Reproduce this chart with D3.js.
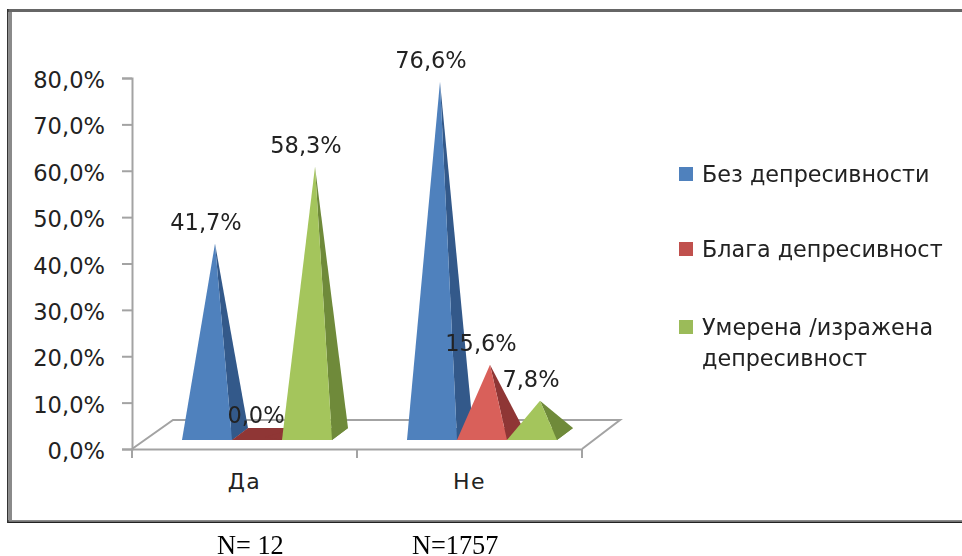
<!DOCTYPE html>
<html><head><meta charset="utf-8">
<script src="https://cdnjs.cloudflare.com/ajax/libs/d3/7.8.5/d3.min.js"></script>
<style>html,body{margin:0;padding:0;background:#fff;overflow:hidden}svg{display:block;filter:blur(0.5px)}</style>
</head><body><div id="c"></div>
<script>
const categories = ["Да", "Не"];
const seriesNames = ["Без депресивности", "Блага депресивност", "Умерена /изражена депресивност"];
const noDepression = [41.7, 76.6];
const mildDepression = [0.0, 15.6];
const moderateDepression = [58.3, 7.8];
const yTicks = [0, 10, 20, 30, 40, 50, 60, 70, 80];
const sampleLabels = ["N= 12", "N=1757"];
const legendLines = [["Без депресивности"], ["Блага депресивност"], ["Умерена /изражена", "депресивност"]];
const faceColors = ["#4f81bd", "#d9605a", "#a4c55c"];
const sideColors = ["#33598a", "#8f3635", "#6f8a3a"];
const legendColors = ["#4f81bd", "#c0504d", "#9bbb59"];

const W = 962, H = 556;
const svg = d3.select("#c").append("svg").attr("width", W).attr("height", H);
const fmt = v => v.toFixed(1).replace(".", ",") + "%";

// frame (runs off the right edge, as in the scan)
svg.append("rect").attr("x", 8).attr("y", 10).attr("width", W).attr("height", 512)
  .attr("fill", "#fff").attr("stroke", "none");
svg.append("rect").attr("x", 7).attr("y", 9).attr("width", W).attr("height", 3).attr("fill", "#666");
svg.append("rect").attr("x", 7).attr("y", 520).attr("width", W).attr("height", 1.5).attr("fill", "#8a8a8a");
svg.append("rect").attr("x", 7).attr("y", 521.5).attr("width", W).attr("height", 1.5).attr("fill", "#222");
svg.append("rect").attr("x", 7).attr("y", 9).attr("width", 1.5).attr("height", 514).attr("fill", "#333");
svg.append("rect").attr("x", 8.5).attr("y", 12).attr("width", 3.5).attr("height", 508).attr("fill", "#8a8a8a");

const y = d3.scaleLinear().domain([0, 80]).range([449, 78]);
const x = d3.scaleBand().domain(categories).range([132, 582]);
const inner = d3.scaleBand().domain([0, 1, 2]).range([50, 200]);
const axisColor = "#a3a3a3";
const depthX = 41, depthY = 29;

// floor
const floor = d3.path();
floor.moveTo(x.range()[0], y(0));
floor.lineTo(x.range()[0] + depthX, y(0) - depthY);
floor.lineTo(x.range()[1] + 38, y(0) - depthY);
floor.lineTo(x.range()[1], y(0));
svg.append("path").attr("d", floor.toString()).attr("fill", "#fff").attr("stroke", axisColor).attr("stroke-width", 2);

// y axis
const yAxis = svg.append("g").attr("transform", "translate(132,0)")
  .call(d3.axisLeft(y).tickValues(yTicks).tickSize(10).tickPadding(17).tickFormat(fmt));
yAxis.selectAll("path,line").attr("stroke", axisColor).attr("stroke-width", 2);
yAxis.selectAll("text").attr("font-family", "DejaVu Sans").attr("font-size", 22.6).attr("fill", "#222").attr("dy", "0.42em");

// x axis
const xAxis = svg.append("g").attr("transform", `translate(0,${y(0)})`)
  .call(d3.axisBottom(x).tickSize(0).tickPadding(23));
xAxis.select("path").attr("stroke", axisColor).attr("stroke-width", 2);
xAxis.selectAll("text").attr("font-family", "DejaVu Sans").attr("font-size", 22).attr("fill", "#222")
  .attr("letter-spacing", 1.5).attr("dy", "0.75em");
const xEdges = [x.range()[0], x.range()[0] + x.bandwidth(), x.range()[1]];
svg.append("g").selectAll("line").data(xEdges).join("line")
  .attr("x1", d => d).attr("x2", d => d).attr("y1", y(0)).attr("y2", y(0) + 9)
  .attr("stroke", axisColor).attr("stroke-width", 2);

// pyramids
const seriesValues = [noDepression, mildDepression, moderateDepression];
const baseY = y(0) - 9, backDX = 16, backDY = 12, apexLift = 12;
categories.forEach((cat, ci) => {
  seriesValues.forEach((vals, si) => {
    const v = vals[ci];
    const x0 = x(cat) + inner(si), x1 = x0 + inner.bandwidth();
    const ax = (x0 + x1) / 2 + backDX / 2, ay = y(v) - apexLift;
    const line = d3.line();
    const g = svg.append("g");
    g.append("path").attr("fill", sideColors[si])
      .attr("d", line([[x0, baseY], [x1, baseY], [x1 + backDX, baseY - backDY], [x0 + backDX, baseY - backDY]]) + "Z");
    g.append("path").attr("fill", sideColors[si])
      .attr("d", line([[x1, baseY], [x1 + backDX, baseY - backDY], [ax, ay]]) + "Z");
    if (v > 0) g.append("path").attr("fill", faceColors[si])
      .attr("d", line([[x0, baseY], [x1, baseY], [ax, ay]]) + "Z");
  });
});
// data labels
categories.forEach((cat, ci) => {
  seriesValues.forEach((vals, si) => {
    const v = vals[ci];
    const x0 = x(cat) + inner(si);
    svg.append("text").attr("x", x0 + inner.bandwidth() / 2 - 1).attr("y", y(v) - 26)
      .attr("text-anchor", "middle").attr("font-family", "DejaVu Sans").attr("font-size", 22.5)
      .attr("fill", "#222").text(fmt(v));
  });
});

// legend
const legendY = [[182], [257], [335, 366]];
legendLines.forEach((lines, i) => {
  svg.append("rect").attr("x", 679).attr("y", legendY[i][0] - 15).attr("width", 14).attr("height", 14).attr("fill", legendColors[i]);
  lines.forEach((t, j) => svg.append("text").attr("x", 702).attr("y", legendY[i][j])
    .attr("font-family", "DejaVu Sans").attr("font-size", 22.3).attr("fill", "#222").text(t));
});

// N labels
const nX = [217, 412];
sampleLabels.forEach((t, i) => svg.append("text").attr("x", nX[i]).attr("y", 553.5)
  .attr("font-family", "Liberation Serif").attr("font-size", 26.3).attr("fill", "#000").text(t));
</script></body></html>
